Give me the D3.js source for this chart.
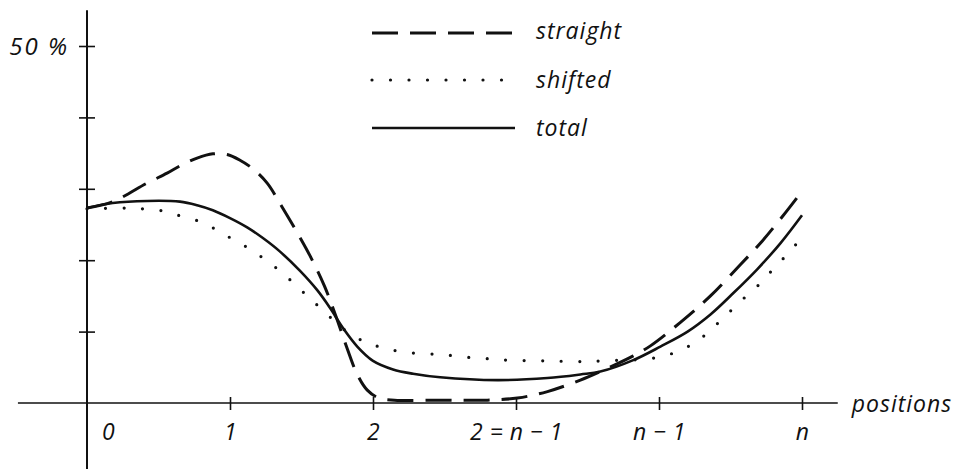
<!DOCTYPE html>
<html><head><meta charset="utf-8">
<script src="https://cdn.jsdelivr.net/npm/d3@7"></script>
<style>
html,body{margin:0;padding:0;background:#fff;}
text{font-family:"Open Sans","DejaVu Sans",sans-serif;font-style:italic;fill:#111;}
</style></head>
<body>
<svg id="c" width="961" height="469"></svg>
<script>
// x in position units (0 .. n), y in percent
const xTickValues = [0, 1, 2, 3, 4, 5];
const xTickLabels = ["0", "1", "2", "2 = n \u2212 1", "n \u2212 1", "n"];
const yTickValues = [10, 20, 30, 40, 50];
const yTickLabels = {50: "50 %"};

const straightX = [0, 0.18, 0.42, 0.56, 0.65, 0.77, 0.88, 0.98, 1.07, 1.16, 1.26, 1.36, 1.46, 1.56, 1.66, 1.74, 1.82, 1.89, 1.96, 2.04, 2.15, 2.5, 2.8, 3.01, 3.22, 3.45, 3.59, 3.82, 3.94, 4.15, 4.36, 4.57, 4.71, 4.87, 4.99];
const straightY = [27.3, 28.2, 30.8, 32.2, 33.2, 34.3, 34.9, 34.8, 34.0, 32.8, 30.8, 27.6, 24.2, 20.6, 16.4, 12.2, 7.6, 4.0, 1.8, 0.7, 0.4, 0.4, 0.4, 0.7, 1.6, 3.2, 4.4, 6.6, 8.0, 11.3, 15.0, 19.4, 22.4, 26.3, 29.4];

const shiftedX = [0, 0.24, 0.38, 0.53, 0.67, 0.82, 0.94, 1.07, 1.21, 1.33, 1.45, 1.55, 1.65, 1.79, 1.95, 2.08, 2.22, 2.38, 2.52, 2.66, 2.8, 2.94, 3.2, 3.47, 3.6, 3.73, 3.87, 4.02, 4.15, 4.27, 4.38, 4.48, 4.59, 4.71, 4.8, 4.9, 5.0];
const shiftedY = [27.2, 27.3, 27.2, 26.9, 26.1, 25.2, 23.8, 22.4, 20.6, 18.8, 16.7, 14.8, 13.0, 10.4, 8.5, 7.7, 7.1, 6.9, 6.7, 6.4, 6.2, 6.0, 5.9, 5.8, 5.9, 6.0, 6.1, 6.5, 7.4, 8.7, 10.6, 12.5, 14.6, 16.8, 18.8, 20.9, 23.2];

const totalX = [0, 0.18, 0.42, 0.65, 0.77, 0.88, 1.0, 1.12, 1.23, 1.35, 1.49, 1.61, 1.7, 1.79, 1.89, 2.0, 2.14, 2.28, 2.47, 2.87, 3.22, 3.45, 3.59, 3.82, 4.01, 4.2, 4.36, 4.52, 4.69, 4.85, 5.0];
const totalY = [27.3, 28.0, 28.3, 28.2, 27.7, 27.0, 25.9, 24.6, 23.1, 21.2, 18.5, 15.8, 13.3, 10.5, 7.9, 5.9, 4.7, 4.1, 3.6, 3.2, 3.5, 4.0, 4.4, 6.0, 7.9, 10.0, 12.4, 15.4, 18.8, 22.4, 26.3];

const seriesNames = ["straight", "shifted", "total"];

const svg = d3.select("#c");
const x = d3.scaleLinear().domain([0, 5]).range([87, 802]);
const y = d3.scaleLinear().domain([0, 50]).range([403, 46]);

const styles = {
  straight: {dash: "26,12", width: 3, cap: "butt"},
  shifted: {dash: "0,18.5", width: 3.2, cap: "round"},
  total: {dash: null, width: 2.6, cap: "butt"}
};

// axes lines
svg.append("line").attr("x1", x(-0.483)).attr("x2", x(5.25)).attr("y1", y(0)).attr("y2", y(0))
  .attr("stroke", "#111").attr("stroke-width", 1.6);
svg.append("line").attr("x1", x(0)).attr("x2", x(0)).attr("y1", y(55)).attr("y2", 469)
  .attr("stroke", "#111").attr("stroke-width", 2);

// x axis ticks
const xAxis = d3.axisBottom(x).tickValues(xTickValues).tickSize(0).tickFormat("");
const gx = svg.append("g").attr("transform", `translate(0,${y(0)})`).call(xAxis);
gx.select(".domain").remove();
gx.selectAll(".tick line").attr("y1", -6).attr("y2", 7).attr("stroke", "#111").attr("stroke-width", 1.6);
gx.selectAll(".tick").filter(d => d === 0).select("line").remove();
gx.selectAll(".tick").append("text")
  .attr("x", d => d === 0 ? 21 : 0)
  .attr("y", 37)
  .attr("text-anchor", "middle")
  .attr("font-size", 23)
  .attr("letter-spacing", 0.5)
  .text(d => xTickLabels[xTickValues.indexOf(d)]);

// y axis ticks
const yAxis = d3.axisLeft(y).tickValues(yTickValues).tickSize(0).tickFormat("");
const gy = svg.append("g").attr("transform", `translate(${x(0)},0)`).call(yAxis);
gy.select(".domain").remove();
gy.selectAll(".tick line").attr("x1", -8).attr("x2", 8).attr("stroke", "#111").attr("stroke-width", 1.6);
gy.selectAll(".tick").filter(d => yTickLabels[d]).append("text")
  .attr("x", -18).attr("dy", "0.35em").attr("text-anchor", "end").attr("font-size", 24)
  .attr("letter-spacing", 2)
  .text(d => yTickLabels[d]);

// axis title
svg.append("text").attr("x", x(5.25) + 14).attr("y", y(0) + 9).attr("font-size", 23)
  .attr("letter-spacing", 1).text("positions");

// curves
const line = d3.line().x(d => x(d[0])).y(d => y(d[1])).curve(d3.curveCatmullRom.alpha(0.5));
const data = {
  straight: d3.zip(straightX, straightY),
  shifted: d3.zip(shiftedX, shiftedY),
  total: d3.zip(totalX, totalY)
};
seriesNames.forEach(name => {
  const s = styles[name];
  svg.append("path").datum(data[name]).attr("d", line)
    .attr("fill", "none").attr("stroke", "#111").attr("stroke-width", s.width)
    .attr("stroke-linecap", s.cap)
    .attr("stroke-dasharray", s.dash);
});

// legend
const legY = [33, 80, 128];
const legTextDy = [6, 8, 8];
seriesNames.forEach((name, i) => {
  const s = styles[name];
  svg.append("line").attr("x1", 372).attr("x2", 515).attr("y1", legY[i]).attr("y2", legY[i])
    .attr("stroke", "#111").attr("stroke-width", s.width).attr("stroke-linecap", s.cap)
    .attr("stroke-dasharray", s.dash);
  svg.append("text").attr("x", 536).attr("y", legY[i] + legTextDy[i]).attr("font-size", 23)
    .attr("letter-spacing", 1).text(name);
});
</script>
</body></html>
